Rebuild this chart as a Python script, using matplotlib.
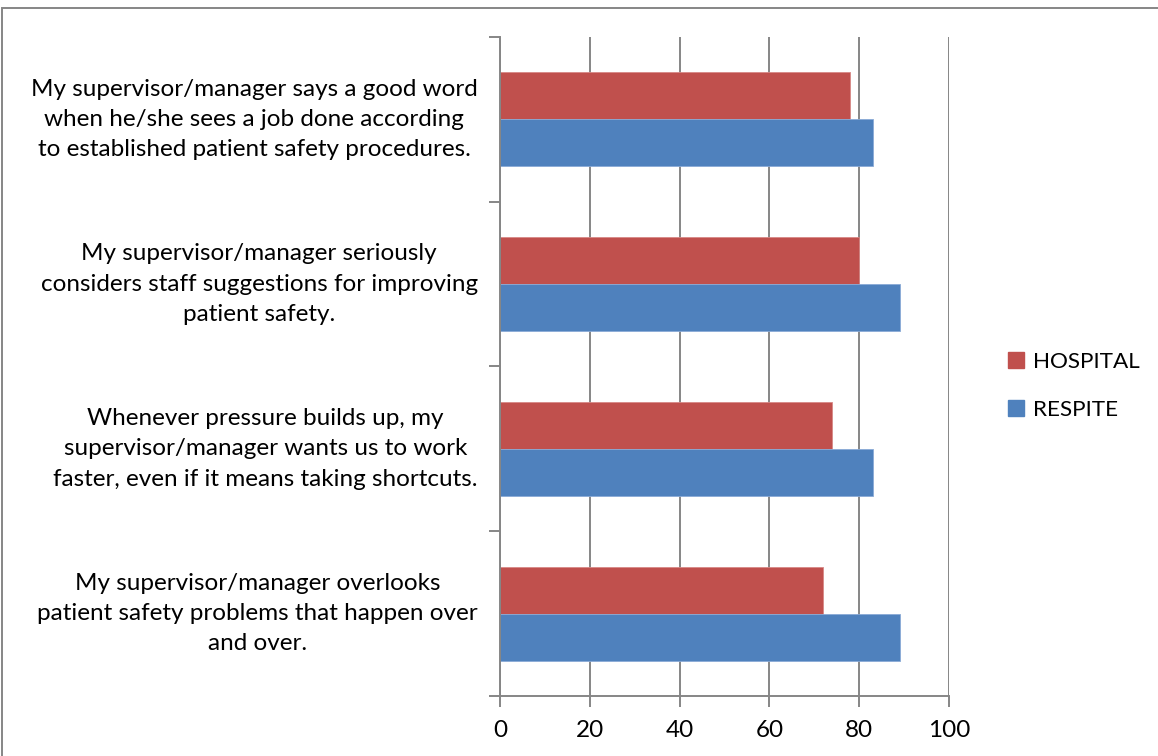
import matplotlib.pyplot as plt
from matplotlib.patches import Patch, Rectangle

# data
questions = [
    "My supervisor/manager says a good word\nwhen he/she sees a job done according\nto established patient safety procedures.",
    "My supervisor/manager seriously\nconsiders staff suggestions for improving\npatient safety.",
    "Whenever pressure builds up, my\nsupervisor/manager wants us to work\nfaster, even if it means taking shortcuts.",
    "My supervisor/manager overlooks\npatient safety problems that happen over\nand over.",
]
hospital = [78, 80, 74, 72]
respite = [83, 89, 83, 89]
x_ticks = [0, 20, 40, 60, 80, 100]

red = "#C0504D"
blue = "#4F81BD"
grid_col = "#868686"

plt.rcParams["font.family"] = ["Lato", "DejaVu Sans"]

fig = plt.figure(figsize=(11.58, 7.56), dpi=100)
ax = fig.add_axes([500 / 1158, 1 - 696 / 756, 449 / 1158, 659 / 756])

bar_h = 0.285
centers = [i + 0.5 for i in range(len(questions))]
ax.barh([c - bar_h / 2 for c in centers], hospital, height=bar_h, color=red, edgecolor="#D78886", linewidth=0.6)
ax.barh([c + bar_h / 2 for c in centers], respite, height=bar_h, color=blue, edgecolor="#8AAAD6", linewidth=0.6)

ax.set_xlim(0, 100)
ax.set_ylim(len(questions), 0)
ax.set_xticks(x_ticks)
ax.set_xticklabels([str(v) for v in x_ticks], fontsize=17.5)
ax.set_yticks(centers)
ax.set_yticklabels(questions, fontsize=17.5, multialignment="center", linespacing=1.55)
for lbl in ax.get_yticklabels():
    lbl.set_verticalalignment("center")
ax.set_yticks(range(len(questions) + 1), minor=True)
ax.tick_params(axis="y", which="major", length=0, pad=16)
ax.tick_params(axis="y", which="minor", length=8, width=1.4, color=grid_col, direction="out")
ax.tick_params(axis="x", length=8, width=1.4, color=grid_col, direction="out", pad=9)

ax.grid(True, axis="x", color=grid_col, linewidth=1.4)
ax.set_axisbelow(True)
for side in ["top", "right"]:
    ax.spines[side].set_visible(False)
for side in ["left", "bottom"]:
    ax.spines[side].set_color(grid_col)
    ax.spines[side].set_linewidth(1.4)

handles = [Patch(color=red, label="HOSPITAL"), Patch(color=blue, label="RESPITE")]
fig.legend(
    handles=handles,
    loc="center left",
    bbox_to_anchor=(988 / 1158, 1 - 386 / 756),
    frameon=False,
    fontsize=16.2,
    handlelength=0.7,
    handleheight=0.7,
    handletextpad=0.4,
    labelspacing=1.25,
)

# outer chart border
fig.add_artist(
    Rectangle(
        (2 / 1158, -0.1), 1.2, 1.1 - 8 / 756,
        transform=fig.transFigure, fill=False, edgecolor=grid_col, linewidth=1.4, clip_on=False,
    )
)

fig.savefig("out.png", dpi=100)
